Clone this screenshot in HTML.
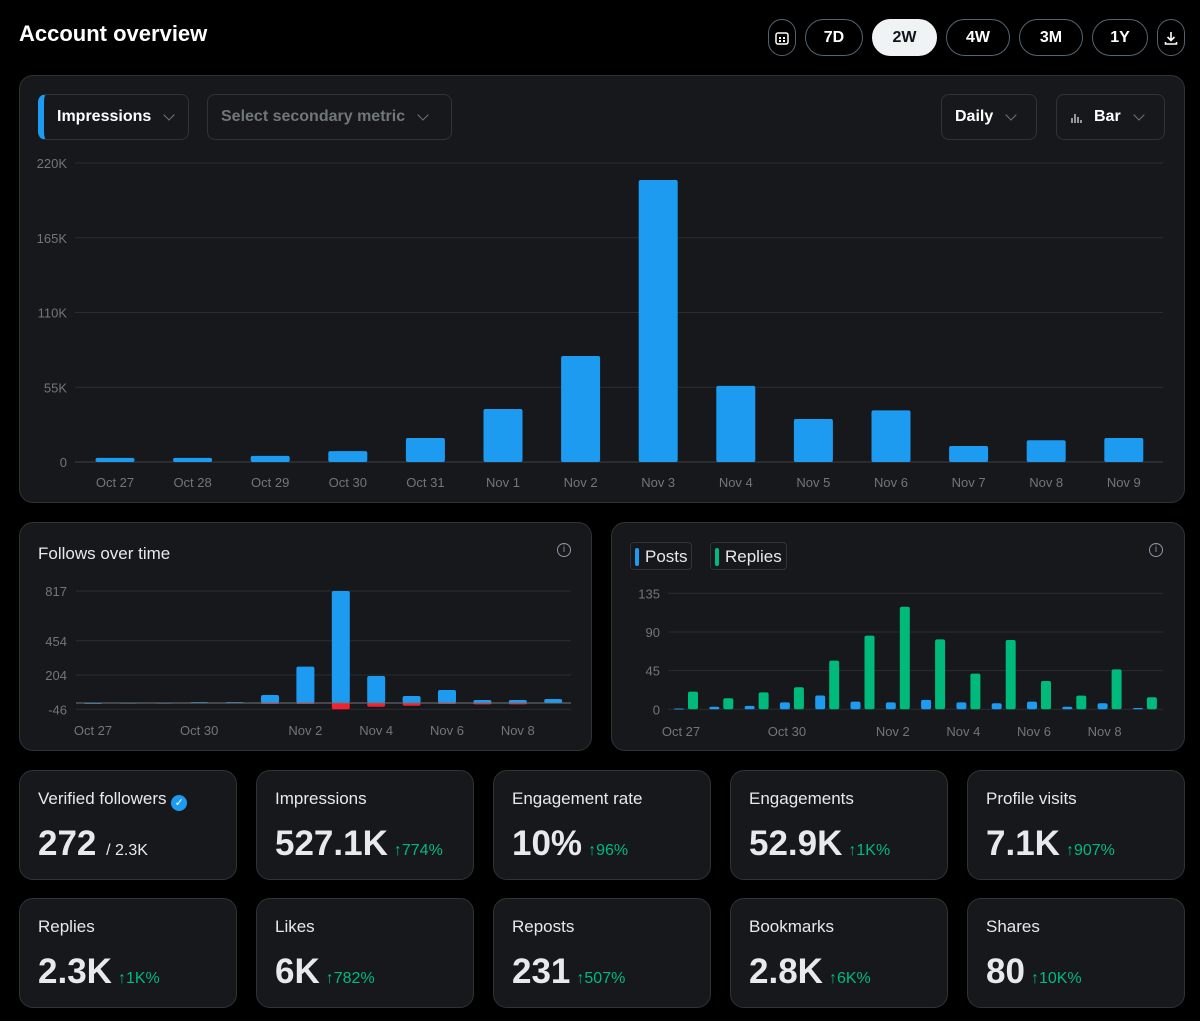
<!DOCTYPE html>
<html><head><meta charset="utf-8">
<style>
*{box-sizing:border-box;margin:0;padding:0}
body{width:1200px;height:1021px;background:#000;font-family:"Liberation Sans",sans-serif;color:#e7e9ea;position:relative;overflow:hidden}
.abs{position:absolute}
.title{left:19px;top:21px;font-size:22px;font-weight:bold;color:#fff}
.pill{position:absolute;top:19px;height:37px;border:1px solid #536471;border-radius:19px;display:flex;align-items:center;justify-content:center;font-weight:bold;font-size:16px;color:#fff}
.pill.on{background:#eff3f4;color:#0f1419;border-color:#eff3f4}
.card{position:absolute;background:#16181c;border:1px solid #2f3336;border-radius:14px}
.dd{position:absolute;height:46px;border:1px solid #2f3336;border-radius:8px;display:flex;align-items:center;font-size:16px;font-weight:bold;padding-left:13px}
.chev{display:inline-block;width:8px;height:8px;border-right:1.5px solid #71767b;border-bottom:1.5px solid #71767b;transform:rotate(45deg);margin-left:14px;margin-top:-5px}
.stat .lab{position:absolute;left:18px;top:18px;font-size:17px;color:#e7e9ea}
.stat .val{position:absolute;left:18px;top:53px;font-size:35px;font-weight:bold;color:#e7e9ea}
.stat .chg{font-size:16px;font-weight:normal;color:#00ba7c;margin-left:6px}
.ctitle{font-size:17px;color:#e7e9ea}
svg text{font-family:"Liberation Sans",sans-serif}
</style></head><body>
<div class="abs title">Account overview</div>
<div class="pill" style="left:768px;width:28px"><svg width="14" height="14"><rect x="1" y="2" width="12" height="11" rx="2" fill="none" stroke="#fff" stroke-width="1.5"/><rect x="4" y="6" width="2" height="2" fill="#fff"/><rect x="8" y="6" width="2" height="2" fill="#fff"/><rect x="4" y="9" width="2" height="2" fill="#fff"/><rect x="8" y="9" width="2" height="2" fill="#fff"/></svg></div>
<div class="pill" style="left:805px;width:58px">7D</div>
<div class="pill on" style="left:872px;width:65px">2W</div>
<div class="pill" style="left:946px;width:64px">4W</div>
<div class="pill" style="left:1019px;width:64px">3M</div>
<div class="pill" style="left:1092px;width:56px">1Y</div>
<div class="pill" style="left:1157px;width:28px"><svg width="14" height="14"><path d="M7 1v8M3.5 6L7 9.5 10.5 6M1.5 11v2h11v-2" fill="none" stroke="#fff" stroke-width="1.6"/></svg></div>

<div class="card" style="left:19px;top:75px;width:1166px;height:428px"></div>
<div class="dd" style="left:38px;top:94px;width:151px;border-left:6px solid #1d9bf0;color:#fff">Impressions<span class="chev"></span></div>
<div class="dd" style="left:207px;top:94px;width:245px;color:#71767b">Select secondary metric<span class="chev"></span></div>
<div class="dd" style="left:941px;top:94px;width:96px;color:#fff">Daily<span class="chev"></span></div>
<div class="dd" style="left:1056px;top:94px;width:109px;color:#fff"><svg width="14" height="12" style="margin-right:10px"><path d="M2 12V7M5 12V3M8 12V6M11 12V9" stroke="#ccc" stroke-width="1.4"/></svg>Bar<span class="chev"></span></div>

<div class="card" style="left:19px;top:522px;width:573px;height:229px"></div>
<div class="abs ctitle" style="left:38px;top:544px">Follows over time</div>
<div class="abs" style="left:557px;top:543px;width:14px;height:14px;border:1.3px solid #8b98a5;border-radius:50%;font-size:10px;text-align:center;line-height:12px;color:#8b98a5">i</div>
<div class="card" style="left:611px;top:522px;width:574px;height:229px"></div>
<div class="abs" style="left:630px;top:542px;height:28px;width:62px;border:1px solid #2f3336;border-radius:4px;font-size:17px;padding:4px 0 0 14px"><span class="abs" style="left:4px;top:5px;width:4px;height:18px;background:#1d9bf0;border-radius:2px"></span>Posts</div>
<div class="abs" style="left:710px;top:542px;height:28px;width:77px;border:1px solid #2f3336;border-radius:4px;font-size:17px;padding:4px 0 0 14px"><span class="abs" style="left:4px;top:5px;width:4px;height:18px;background:#00ba7c;border-radius:2px"></span>Replies</div>
<div class="abs" style="left:1149px;top:543px;width:14px;height:14px;border:1.3px solid #8b98a5;border-radius:50%;font-size:10px;text-align:center;line-height:12px;color:#8b98a5">i</div>

<div class="card stat" style="left:19px;top:770px;width:218px;height:110px"><div class="lab">Verified followers <span style="display:inline-block;width:16px;height:16px;border-radius:50%;background:#1d9bf0;color:#fff;font-size:11px;text-align:center;line-height:16px;vertical-align:-2px">✓</span></div><div class="val">272 <span style="font-size:16px;font-weight:normal">/ 2.3K</span></div></div>
<div class="card stat" style="left:256px;top:770px;width:218px;height:110px"><div class="lab">Impressions</div><div class="val">527.1K<span class="chg">↑774%</span></div></div>
<div class="card stat" style="left:493px;top:770px;width:218px;height:110px"><div class="lab">Engagement rate</div><div class="val">10%<span class="chg">↑96%</span></div></div>
<div class="card stat" style="left:730px;top:770px;width:218px;height:110px"><div class="lab">Engagements</div><div class="val">52.9K<span class="chg">↑1K%</span></div></div>
<div class="card stat" style="left:967px;top:770px;width:218px;height:110px"><div class="lab">Profile visits</div><div class="val">7.1K<span class="chg">↑907%</span></div></div>
<div class="card stat" style="left:19px;top:898px;width:218px;height:110px"><div class="lab">Replies</div><div class="val">2.3K<span class="chg">↑1K%</span></div></div>
<div class="card stat" style="left:256px;top:898px;width:218px;height:110px"><div class="lab">Likes</div><div class="val">6K<span class="chg">↑782%</span></div></div>
<div class="card stat" style="left:493px;top:898px;width:218px;height:110px"><div class="lab">Reposts</div><div class="val">231<span class="chg">↑507%</span></div></div>
<div class="card stat" style="left:730px;top:898px;width:218px;height:110px"><div class="lab">Bookmarks</div><div class="val">2.8K<span class="chg">↑6K%</span></div></div>
<div class="card stat" style="left:967px;top:898px;width:218px;height:110px"><div class="lab">Shares</div><div class="val">80<span class="chg">↑10K%</span></div></div>

<svg class="abs" style="left:0;top:0;pointer-events:none" width="1200" height="1021" id="svg"></svg>

<script>
const days = ["Oct 27","Oct 28","Oct 29","Oct 30","Oct 31","Nov 1","Nov 2","Nov 3","Nov 4","Nov 5","Nov 6","Nov 7","Nov 8","Nov 9"];
const impressions = [3000,3000,4500,8000,17700,39000,78000,207500,56000,31600,38000,11800,16000,17700];
const impTicks = [0,55000,110000,165000,220000];
const impTickLabels = ["0","55K","110K","165K","220K"];
const followsGained = [1,3,3,6,6,58,265,817,197,51,95,22,22,29];
const followsLost = [0,0,0,0,0,-4,-3,-46,-27,-20,-7,-10,-10,0];
const followTicks = [-46,204,454,817];
const followLabelIdx = [0,3,6,8,10,12];
const posts = [1,3,4,8,16,9,8,11,8,7,9,3,7,1.5];
const replies = [20.5,12.8,19.7,25.6,56.6,85.7,119.4,81.4,41.5,80.6,33,15.9,46.5,14];
const prTicks = [0,45,90,135];

const svg = document.getElementById('svg');
const NS = 'http://www.w3.org/2000/svg';
function mk(tag, attrs, parent){const e=document.createElementNS(NS,tag);for(const k in attrs)e.setAttribute(k,attrs[k]);(parent||svg).appendChild(e);return e;}
function txt(x,y,s,anchor,name){const t=mk('text',{x:x,y:y,fill:'#71767b','font-size':13,'text-anchor':anchor});t.textContent=s;


return t;}
function bar(x,y0,y1,w,color,name){const top=Math.min(y0,y1),h=Math.max(Math.abs(y1-y0),1);const r=mk('rect',{x:x-w/2,y:top,width:w,height:h,rx:2,fill:color});


return r;}

// Main chart
(function(){
  const y=v=>462-v*(462-163)/220000, x=i=>115+i*77.6;
  impTicks.forEach((t,i)=>{const l=mk('line',{x1:75,x2:1163,y1:y(t),y2:y(t),stroke:i==0?'#3e4144':'#2a2d31'});
    
    
    txt(67,y(t)+5,impTickLabels[i],'end','main-y-tick');});
  days.forEach((d,i)=>{bar(x(i),y(0),y(impressions[i]),39,'#1d9bf0','impressions-bar');txt(x(i),487,d,'middle','main-x-tick');});
})();
// Follows chart
(function(){
  const y=v=>703-v*(703-591)/817, x=i=>93+i*35.4;
  followTicks.forEach(t=>{const l=mk('line',{x1:76,x2:571,y1:y(t),y2:y(t),stroke:'#2a2d31'});
    
    
    txt(67,y(t)+5,String(t),'end','follows-y-tick');});
  days.forEach((d,i)=>{bar(x(i),y(0),y(followsGained[i]),18,'#1d9bf0','follows-gained-bar');
    if(followsLost[i]<0)bar(x(i),y(0),y(followsLost[i]),18,'#f4212e','follows-lost-bar');});
  const z=mk('line',{x1:76,x2:571,y1:y(0),y2:y(0),stroke:'#71767b'});
  
  
  followLabelIdx.forEach(i=>txt(x(i),735,days[i],'middle','follows-x-tick'));
})();
// Posts & replies chart
(function(){
  const y=v=>709.3-v*(709.3-593.3)/135, x=i=>686+i*35.3;
  prTicks.forEach(t=>{const l=mk('line',{x1:668,x2:1163,y1:y(t),y2:y(t),stroke:'#2a2d31'});
    
    
    txt(660,y(t)+5,String(t),'end','posts-y-tick');});
  days.forEach((d,i)=>{bar(x(i)-7,y(0),y(posts[i]),10,'#1d9bf0','posts-bar');bar(x(i)+7,y(0),y(replies[i]),10,'#00ba7c','replies-bar');});
  followLabelIdx.forEach(i=>txt(x(i)-5,736,days[i],'middle','posts-x-tick'));
})();
</script>
</body></html>
